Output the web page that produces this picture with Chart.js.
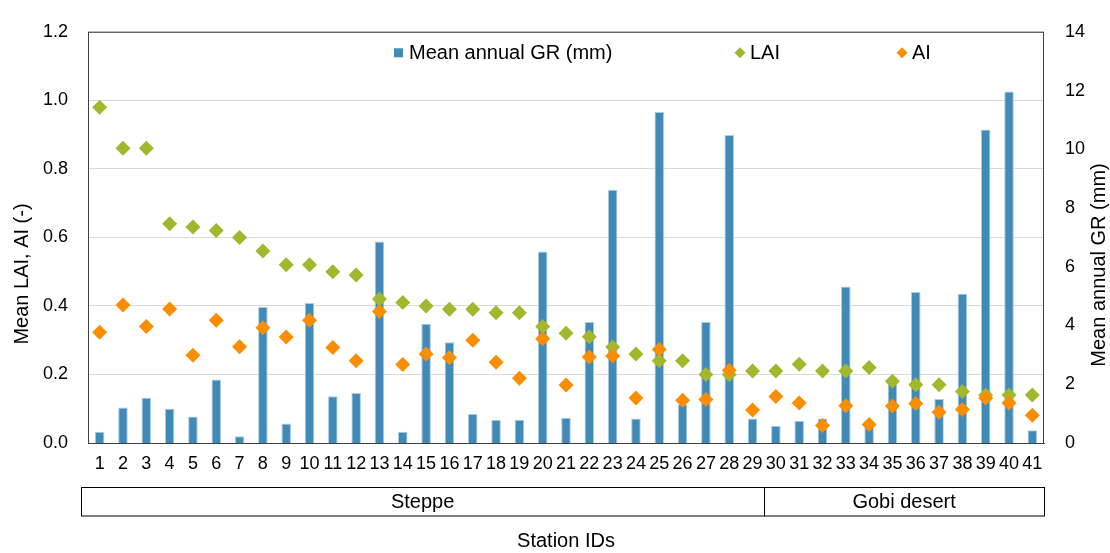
<!DOCTYPE html>
<html lang="en">
<head>
    <meta charset="UTF-8">
    <title>Mean annual GR, LAI and AI by station</title>
    <script src="https://cdn.jsdelivr.net/npm/chart.js"></script>
    <style>
        body {
            margin: 0;
            background: #fff;
        }
        #chart {
            display: block;
        }
    </style>
</head>
<body>
    <canvas id="chart" width="1110" height="553"></canvas>

    <script>
        // station ids 1..41
        const stations = ['1','2','3','4','5','6','7','8','9','10','11','12','13','14','15','16','17','18','19','20',
            '21','22','23','24','25','26','27','28','29','30','31','32','33','34','35','36','37','38','39','40','41'];

        // mean annual GR (mm), right axis
        const grValues = [0.38, 1.21, 1.54, 1.17, 0.90, 2.16, 0.23, 4.63, 0.66, 4.77,
            1.59, 1.70, 6.86, 0.38, 4.06, 3.43, 0.99, 0.79, 0.79, 6.52,
            0.86, 4.12, 8.62, 0.83, 11.27, 1.32, 4.12, 10.49, 0.83, 0.59,
            0.76, 0.83, 5.33, 0.62, 2.10, 5.14, 1.50, 5.08, 10.67, 11.97, 0.43];

        // mean LAI (-), left axis
        const laiValues = [0.98, 0.86, 0.86, 0.64, 0.63, 0.62, 0.60, 0.56, 0.52, 0.52,
            0.50, 0.49, 0.42, 0.41, 0.40, 0.39, 0.39, 0.38, 0.38, 0.34,
            0.32, 0.31, 0.28, 0.26, 0.24, 0.24, 0.20, 0.20, 0.21, 0.21,
            0.23, 0.21, 0.21, 0.22, 0.18, 0.17, 0.17, 0.15, 0.14, 0.14, 0.14];

        // mean AI (-), left axis
        const aiValues = [0.323, 0.403, 0.340, 0.391, 0.256, 0.358, 0.281, 0.336, 0.309, 0.358,
            0.279, 0.240, 0.384, 0.229, 0.260, 0.249, 0.300, 0.236, 0.189, 0.304,
            0.169, 0.251, 0.254, 0.131, 0.273, 0.125, 0.127, 0.212, 0.096, 0.136,
            0.117, 0.051, 0.109, 0.054, 0.108, 0.115, 0.090, 0.098, 0.131, 0.117, 0.081];

        // regions below the axis: [label, first station index, last station index]
        const regions = [['Steppe', 0, 28], ['Gobi desert', 29, 40]];

        const leftTicks = [0, 0.2, 0.4, 0.6, 0.8, 1.0, 1.2];
        const rightTicks = [0, 2, 4, 6, 8, 10, 12, 14];

        const FONT = "'Liberation Sans', Arial, sans-serif";
        const grColor = '#4189b7';
        const laiColor = '#a3b72c';
        const aiColor = '#fb8e00';

        const extras = {
            id: 'extras',
            afterDraw(chart) {
                const ctx = chart.ctx;
                const area = chart.chartArea;
                const x = chart.scales.x;
                ctx.save();

                // frame round the plot
                ctx.strokeStyle = '#404040';
                ctx.lineWidth = 1;
                ctx.strokeRect(area.left + 0.5, area.top + 0.5, area.right - area.left - 1, area.bottom - area.top);

                // legend inside the plot
                const ly = area.top + 21;
                const ds = chart.data.datasets;
                ctx.font = '20px ' + FONT;
                ctx.textBaseline = 'middle';
                ctx.textAlign = 'left';
                ctx.fillStyle = ds[0].backgroundColor;
                ctx.fillRect(area.left + 306, ly - 4.5, 9, 9);
                ctx.fillStyle = '#000';
                ctx.fillText(ds[0].label, area.left + 321, ly + 1);
                [[ds[1], 652], [ds[2], 814]].forEach(([d, off]) => {
                    const cx = area.left + off;
                    ctx.fillStyle = d.pointBackgroundColor;
                    ctx.beginPath();
                    ctx.moveTo(cx, ly - 5.5);
                    ctx.lineTo(cx + 5.5, ly);
                    ctx.lineTo(cx, ly + 5.5);
                    ctx.lineTo(cx - 5.5, ly);
                    ctx.closePath();
                    ctx.fill();
                    ctx.fillStyle = '#000';
                    ctx.fillText(d.label, cx + 10, ly + 1);
                });

                // region boxes
                const boxTop = 487.5, boxBottom = 516;
                const half = (x.getPixelForValue(1) - x.getPixelForValue(0)) / 2;
                ctx.strokeStyle = '#000';
                ctx.font = '20px ' + FONT;
                ctx.textAlign = 'center';
                regions.forEach(([name, a, b], i) => {
                    let x0 = x.getPixelForValue(a) - half;
                    const x1 = x.getPixelForValue(b) + half;
                    if (i === 0) x0 = area.left - 7;
                    ctx.strokeRect(Math.round(x0) + 0.5, boxTop, Math.round(x1) - Math.round(x0), boxBottom - boxTop);
                    ctx.fillStyle = '#000';
                    ctx.fillText(name, (x0 + x1) / 2, (boxTop + boxBottom) / 2 + 1);
                });

                // axis titles, both reading bottom to top
                ctx.font = '20px ' + FONT;
                ctx.fillStyle = '#000';
                [['Mean LAI, AI (-)', 22, 274], ['Mean annual GR (mm)', 1099, 265]].forEach(([t, tx, ty]) => {
                    ctx.save();
                    ctx.translate(tx, ty);
                    ctx.rotate(-Math.PI / 2);
                    ctx.textAlign = 'center';
                    ctx.fillText(t, 0, 0);
                    ctx.restore();
                });
                ctx.restore();
            }
        };

        new Chart(document.getElementById('chart'), {
            data: {
                labels: stations,
                datasets: [
                    {
                        type: 'bar',
                        label: 'Mean annual GR (mm)',
                        data: grValues,
                        yAxisID: 'y1',
                        backgroundColor: grColor,
                        borderColor: '#a9cce3',
                        borderWidth: {left: 1, right: 1, top: 1, bottom: 0},
                        barPercentage: 0.41,
                        categoryPercentage: 1,
                        order: 3
                    },
                    {
                        type: 'line',
                        label: 'LAI',
                        data: laiValues,
                        yAxisID: 'y',
                        showLine: false,
                        pointStyle: 'rectRot',
                        pointRadius: 7.5,
                        pointBackgroundColor: laiColor,
                        pointBorderColor: laiColor,
                        pointBorderWidth: 0,
                        order: 2
                    },
                    {
                        type: 'line',
                        label: 'AI',
                        data: aiValues,
                        yAxisID: 'y',
                        showLine: false,
                        pointStyle: 'rectRot',
                        pointRadius: 7.5,
                        pointBackgroundColor: aiColor,
                        pointBorderColor: aiColor,
                        pointBorderWidth: 0,
                        order: 1
                    }
                ]
            },
            options: {
                responsive: false,
                animation: false,
                layout: {padding: {top: 23, left: 0, right: 0, bottom: 0}},
                plugins: {
                    legend: {display: false},
                    tooltip: {enabled: false}
                },
                scales: {
                    x: {
                        type: 'category',
                        offset: true,
                        grid: {display: false, drawTicks: false},
                        border: {color: '#404040'},
                        ticks: {
                            autoSkip: false,
                            maxRotation: 0,
                            padding: 10,
                            color: '#000',
                            font: {family: FONT, size: 18}
                        },
                        title: {
                            display: true,
                            text: 'Station IDs',
                            color: '#000',
                            padding: 0,
                            font: {family: FONT, size: 20}
                        },
                        afterFit: (s) => { s.height = 110; }
                    },
                    y: {
                        position: 'left',
                        min: 0,
                        max: 1.2,
                        afterBuildTicks: (s) => { s.ticks = leftTicks.map(v => ({value: v})); },
                        grid: {color: '#d9d9d9', drawTicks: false},
                        border: {display: false},
                        ticks: {
                            padding: 20,
                            color: '#000',
                            font: {family: FONT, size: 18},
                            callback: (v) => v.toFixed(1)
                        },
                        afterFit: (s) => { s.width = 88; }
                    },
                    y1: {
                        position: 'right',
                        min: 0,
                        max: 14,
                        afterBuildTicks: (s) => { s.ticks = rightTicks.map(v => ({value: v})); },
                        grid: {display: false, drawTicks: false},
                        border: {display: false},
                        ticks: {
                            padding: 21,
                            color: '#000',
                            font: {family: FONT, size: 18}
                        },
                        afterFit: (s) => { s.width = 66; }
                    }
                }
            },
            plugins: [extras]
        });
    </script>
</body>
</html>
